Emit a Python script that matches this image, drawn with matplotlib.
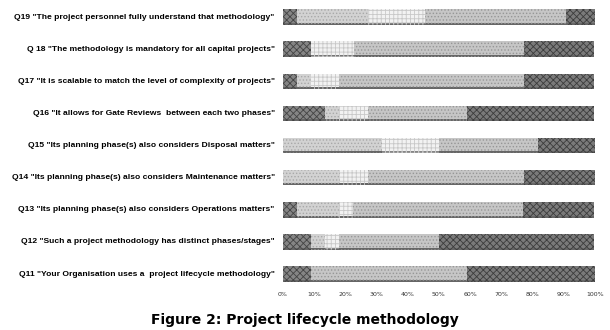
import numpy as np
import matplotlib.pyplot as plt
import matplotlib.patheffects as pe

questions = [
    'Q11 "Your Organisation uses a  project lifecycle methodology"',
    'Q12 "Such a project methodology has distinct phases/stages"',
    'Q13 "Its planning phase(s) also considers Operations matters"',
    'Q14 "Its planning phase(s) also considers Maintenance matters"',
    'Q15 "Its planning phase(s) also considers Disposal matters"',
    'Q16 "It allows for Gate Reviews  between each two phases"',
    'Q17 "It is scalable to match the level of complexity of projects"',
    'Q 18 "The methodology is mandatory for all capital projects"',
    'Q19 "The project personnel fully understand that methodology"',
]

# percentages per answer, Q11..Q19
strongly_disagree = [9.1, 9.1, 4.5, 0.0, 0.0, 13.6, 4.5, 9.1, 4.5]
disagree = [0.0, 4.5, 13.6, 18.2, 31.8, 4.5, 4.5, 0.0, 22.7]
neutral = [0.0, 4.5, 4.5, 9.1, 18.2, 9.1, 9.1, 13.6, 18.2]
agree = [50.0, 31.8, 54.5, 50.0, 31.8, 31.8, 59.1, 54.5, 45.5]
strongly_agree = [40.9, 50.0, 22.7, 22.7, 18.2, 40.9, 22.7, 22.7, 9.1]

series = [strongly_disagree, disagree, neutral, agree, strongly_agree]
faces = ['#858585', '#d2d2d2', '#f2f2f2', '#c6c6c6', '#7a7a7a']
hatch_cols = ['#444444', '#a8a8a8', '#c8c8c8', '#969696', '#3c3c3c']
hatches = ['xxxxx', '.....', '++++', '.....', 'xxxxx']

plt.rcParams['hatch.linewidth'] = 0.6

fig = plt.figure(figsize=(6.1, 3.3), dpi=100)
ax = fig.add_axes([0.464, 0.124, 0.511, 0.876])

y = np.arange(len(questions))
left = np.zeros(len(questions))
shadow = [pe.SimplePatchShadow(offset=(0, -1.5), shadow_rgbFace='#555555', alpha=0.9), pe.Normal()]
for vals, fc, hc, h in zip(series, faces, hatch_cols, hatches):
    vals = np.array(vals)
    bars = ax.barh(y, vals, left=left, height=0.42, color=fc, edgecolor=hc,
                   hatch=h, linewidth=0)
    for b in bars:
        b.set_path_effects(shadow)
    left += vals

ax.set_xlim(0, 100)
ax.set_ylim(-0.5, 8.5)
ax.set_xticks(np.arange(0, 101, 10))
ax.set_xticklabels([f'{v}%' for v in range(0, 101, 10)], fontsize=4.5, color='#333333')
ax.set_yticks(y)
ax.set_yticklabels(questions, fontsize=6.1, fontweight='bold', family='Liberation Sans')
ax.tick_params(length=0, pad=6)
ax.tick_params(axis='x', pad=2)
for s in ax.spines.values():
    s.set_visible(False)

fig.text(0.5, 0.03, 'Figure 2: Project lifecycle methodology', ha='center', va='center',
         fontsize=10, fontweight='bold')

fig.savefig('out.png', dpi=100)
